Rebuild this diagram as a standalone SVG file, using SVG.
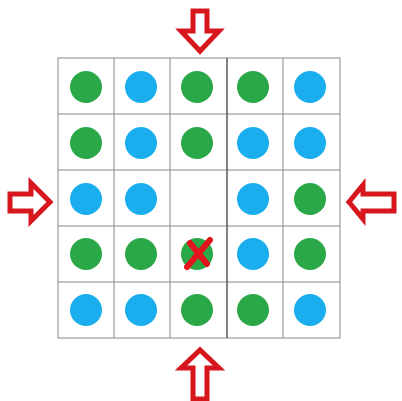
<svg xmlns="http://www.w3.org/2000/svg" width="402" height="401" viewBox="0 0 402 401">
<style>
.cell{fill:#fff;stroke:#8a8a8a;stroke-width:1}
.g{fill:#2aa848}
.b{fill:#1aaeee}
.arr{fill:#fff;stroke:#d7161e;stroke-width:5;stroke-linejoin:miter}
.x{stroke:#e2141c;stroke-width:6;stroke-linecap:round}
</style>
<rect width="402" height="401" fill="#fff"/>
<g id="grid">
<rect class="cell" x="58" y="58" width="282" height="280"/>
<path d="M114,58V338M170,58V338M227,58V338M283,58V338M58,114H340M58,170H340M58,226H340M58,282H340" stroke="#8a8a8a" stroke-width="1" fill="none"/>
<path d="M227,58V338" stroke="#555" stroke-width="1.2"/>
</g>
<g id="r1">
<circle class="g" cx="86" cy="87" r="16"/>
<circle class="b" cx="141" cy="87" r="16"/>
<circle class="g" cx="197" cy="87" r="16"/>
<circle class="g" cx="253" cy="87" r="16"/>
<circle class="b" cx="310" cy="87" r="16"/>
</g>
<g id="r2">
<circle class="g" cx="86" cy="143" r="16"/>
<circle class="b" cx="141" cy="143" r="16"/>
<circle class="g" cx="197" cy="143" r="16"/>
<circle class="b" cx="253" cy="143" r="16"/>
<circle class="b" cx="310" cy="143" r="16"/>
</g>
<g id="r3">
<circle class="b" cx="86" cy="199" r="16"/>
<circle class="b" cx="141" cy="199" r="16"/>
<circle class="b" cx="253" cy="199" r="16"/>
<circle class="g" cx="310" cy="199" r="16"/>
</g>
<g id="r4">
<circle class="g" cx="86" cy="254" r="16"/>
<circle class="g" cx="141" cy="254" r="16"/>
<circle class="g" cx="197" cy="254" r="16"/>
<circle class="b" cx="253" cy="254" r="16"/>
<circle class="g" cx="310" cy="254" r="16"/>
</g>
<g id="r5">
<circle class="b" cx="86" cy="310" r="16"/>
<circle class="b" cx="141" cy="310" r="16"/>
<circle class="g" cx="197" cy="310" r="16"/>
<circle class="g" cx="253" cy="310" r="16"/>
<circle class="b" cx="310" cy="310" r="16"/>
</g>
<g id="cross">
<line class="x" x1="187" y1="267" x2="210" y2="240"/>
<line class="x" x1="190" y1="243" x2="207" y2="264"/>
</g>
<g id="arrows">
<polygon class="arr" points="193,11 207,11 207,31 219,31 200,51 181,31 193,31"/>
<polygon class="arr" points="193,399 207,399 207,368 219,368 200,350 181,368 193,368"/>
<polygon class="arr" points="10,194 31,194 31,183 50,202 31,221 31,211 10,211"/>
<polygon class="arr" points="394,194 363,194 363,185 349,202 363,219 363,211 394,211"/>
</g>
</svg>
